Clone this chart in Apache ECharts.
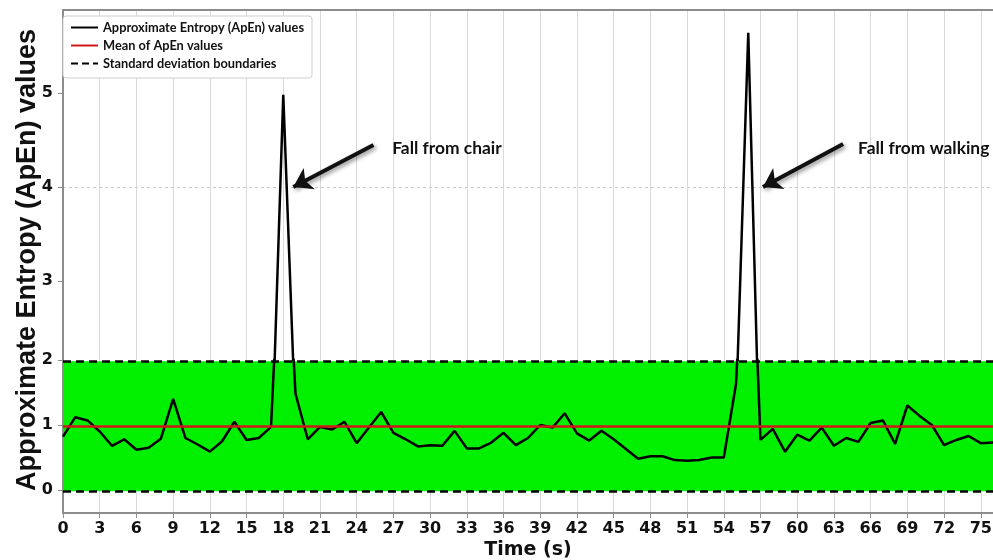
<!DOCTYPE html>
<html>
<head>
<meta charset="utf-8">
<script src="https://cdn.jsdelivr.net/npm/echarts@6/dist/echarts.min.js"></script>
<style>
html,body{margin:0;padding:0;background:#fff;}
#chart{width:993px;height:560px;}
</style>
</head>
<body>
<div id="chart"></div>
<script>
// ---- data ----
const TIME = [0,1,2,3,4,5,6,7,8,9,10,11,12,13,14,15,16,17,18,19,20,21,22,23,24,25,26,27,28,29,30,31,32,33,34,35,36,37,38,39,40,41,42,43,44,45,46,47,48,49,50,51,52,53,54,55,56,57,58,59,60,61,62,63,64,65,66,67,68,69,70,71,72,73,74,75,76];
const APEN = [0.82,1.12,1.07,0.90,0.68,0.78,0.62,0.65,0.79,1.40,
              0.80,0.70,0.59,0.75,1.05,0.77,0.80,0.97,4.98,1.48,
              0.78,0.97,0.93,1.05,0.72,0.96,1.20,0.88,0.78,0.67,
              0.69,0.68,0.91,0.64,0.64,0.73,0.88,0.69,0.80,1.00,
              0.96,1.18,0.87,0.76,0.91,0.78,0.63,0.48,0.52,0.52,
              0.46,0.45,0.46,0.50,0.50,1.63,5.64,0.77,0.94,0.59,
              0.85,0.76,0.96,0.68,0.80,0.74,1.03,1.07,0.71,1.30,
              1.14,1.00,0.69,0.77,0.83,0.72,0.73];
const MEAN = 0.98;
const STD = 1.0;
const X_TICKS = [0,3,6,9,12,15,18,21,24,27,30,33,36,39,42,45,48,51,54,57,60,63,66,69,72,75];
const Y_TICKS_LOW = [0,1,2];
const Y_TICKS_HIGH = [3,4,5];
const SERIES_NAMES = ['Approximate Entropy (ApEn) values','Mean of ApEn values','Standard deviation boundaries'];
const ANNOT_TEXT = ['Fall from chair','Fall from walking'];
const ANNOT_TEXT_POS = [[26.9,4.415],[64.97,4.415]];
const ARROWS = [[[25.37,4.447],[18.82,4.0]],[[63.75,4.457],[57.2,4.0]]];

// ---- build ----
const pairs = TIME.map((t,i)=>[t, APEN[i]]);
const FONT_TICK = {fontFamily:'DejaVu Sans', fontWeight:'bold', fontSize:16, color:'#111'};
const GRID_COL = '#d9d9d9';
const AXIS_COL = '#8c8c8c';
const RED = '#d01818';

const xCommon = {
  type:'value', min:0, max:76, interval:3,
  splitLine:{show:true, showMaxLine:false, lineStyle:{color:GRID_COL, width:1}},
};

const chart = echarts.init(document.getElementById('chart'), null, {renderer:'canvas'});
chart.setOption({
  animation:false,
  backgroundColor:'#fff',
  grid:[
    {left:63, right:0, top:10, height:350, outerBoundsMode:'none', containLabel:false},
    {left:63, right:0, top:360, height:153, outerBoundsMode:'none', containLabel:false}
  ],
  xAxis:[
    Object.assign({}, xCommon, {gridIndex:0, position:'top',
      axisLine:{show:true, onZero:false, lineStyle:{color:AXIS_COL, width:2}},
      axisTick:{show:false}, axisLabel:{show:false}}),
    Object.assign({}, xCommon, {gridIndex:1, position:'bottom',
      name:'Time (s)', nameLocation:'middle', nameGap:28,
      nameTextStyle:{fontFamily:'DejaVu Sans', fontWeight:'bold', fontSize:19, color:'#111'},
      axisLine:{show:true, onZero:false, lineStyle:{color:AXIS_COL, width:2}},
      axisTick:{show:true, length:5, lineStyle:{color:AXIS_COL}},
      axisLabel:Object.assign({margin:8, showMaxLabel:false,
        formatter:(v)=> X_TICKS.indexOf(v)>=0 ? String(v) : ''}, FONT_TICK)})
  ],
  yAxis:[
    {type:'value', gridIndex:0, min:2.16, max:5.883,
      axisLine:{show:true, onZero:false, lineStyle:{color:AXIS_COL, width:2}},
      axisTick:{show:true, length:5, lineStyle:{color:AXIS_COL},
        customValues:Y_TICKS_HIGH},
      axisLabel:Object.assign({margin:10, customValues:Y_TICKS_HIGH,
        formatter:(v)=> Y_TICKS_HIGH.indexOf(v)>=0 ? String(v) : ''}, FONT_TICK),
      splitLine:{show:true, showMinLine:false, showMaxLine:false,
        lineStyle:{color:'#c8c8c8', type:[3,3], width:1}}},
    {type:'value', gridIndex:1, min:-0.354, max:2.0,
      axisLine:{show:true, onZero:false, lineStyle:{color:AXIS_COL, width:2}},
      axisTick:{show:true, length:5, lineStyle:{color:AXIS_COL},
        customValues:Y_TICKS_LOW},
      axisLabel:Object.assign({margin:10, customValues:Y_TICKS_LOW,
        formatter:(v)=> Y_TICKS_LOW.indexOf(v)>=0 ? String(v) : ''}, FONT_TICK),
      splitLine:{show:false}}
  ],
  legend:{
    orient:'vertical', left:63, top:16,
    padding:[5,8,8,7], itemGap:5, itemWidth:27, itemHeight:12,
    backgroundColor:'#fff', borderColor:'#cfcfcf', borderWidth:1, borderRadius:3,
    itemStyle:{opacity:0},
    textStyle:{fontFamily:'Lato', fontWeight:'bold', fontSize:12.8, color:'#111'},
    data:SERIES_NAMES
  },
  graphic:[{
    type:'text', x:28, y:260, rotation:Math.PI/2,
    style:{text:'Approximate Entropy (ApEn) values', align:'center', verticalAlign:'middle',
      font:'bold 27px "Liberation Sans"', fill:'#111'}
  }],
  series:[
    {
      name:SERIES_NAMES[2], type:'line', xAxisIndex:1, yAxisIndex:1, data:[],
      symbol:'none', z:1, itemStyle:{color:'#000'},
      lineStyle:{color:'#000', width:3, type:[7,4]},
      markArea:{silent:true, itemStyle:{color:'#00f000'},
        data:[[{yAxis:MEAN-STD},{yAxis:MEAN+STD}]]},
      markLine:{silent:true, symbol:'none', label:{show:false},
        lineStyle:{color:'#000', width:2.5, type:[8,5]},
        data:[{yAxis:MEAN-STD},{yAxis:MEAN+STD}]}
    },
    {
      name:SERIES_NAMES[0], type:'line', xAxisIndex:1, yAxisIndex:1, data:pairs,
      symbol:'none', z:2, clip:true, itemStyle:{color:'#000'},
      lineStyle:{color:'#000', width:2.5}
    },
    {
      name:SERIES_NAMES[0], type:'line', xAxisIndex:0, yAxisIndex:0, data:pairs,
      symbol:'none', z:2, clip:true, itemStyle:{color:'#000'},
      lineStyle:{color:'#000', width:2.5},
      markLine:{silent:true, symbol:['none','arrow'], symbolSize:18, label:{show:false},
        lineStyle:{color:'#111', width:4, type:'solid',
          shadowColor:'rgba(0,0,0,0.45)', shadowBlur:4, shadowOffsetX:2, shadowOffsetY:2},
        data:ARROWS.map(a=>[{coord:a[0]},{coord:a[1]}])},
      markPoint:{silent:true, symbol:'circle', symbolSize:0,
        label:{show:true, position:'right', distance:0, formatter:(p)=>p.name,
          fontFamily:'Lato', fontWeight:'bold', fontSize:17.4, color:'#111'},
        data:ANNOT_TEXT.map((t,i)=>({name:t, coord:ANNOT_TEXT_POS[i]}))}
    },
    {
      name:SERIES_NAMES[1], type:'line', xAxisIndex:1, yAxisIndex:1, data:[],
      symbol:'none', z:3, itemStyle:{color:RED},
      lineStyle:{color:RED, width:2.5},
      markLine:{silent:true, symbol:'none', label:{show:false},
        lineStyle:{color:RED, width:2.5, type:'solid'},
        data:[{yAxis:MEAN}]}
    }
  ]
});
</script>
</body>
</html>
